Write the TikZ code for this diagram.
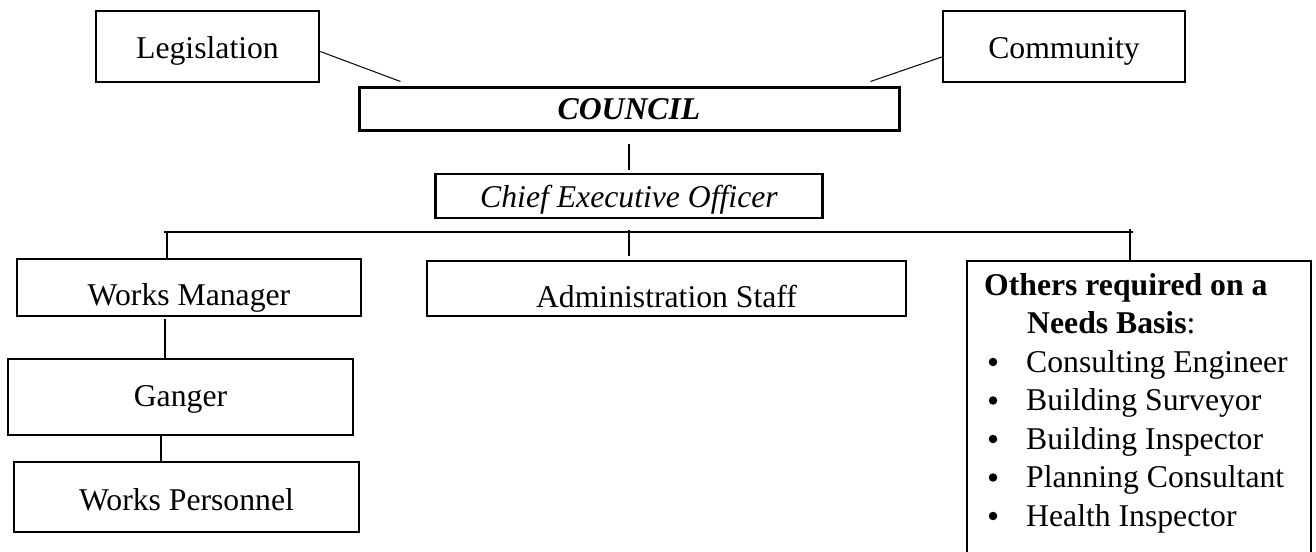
\documentclass[tikz,border=0pt]{standalone}
\usepackage{fontspec}
\setmainfont{Liberation Serif}
\usetikzlibrary{calc}
\begin{document}
\begin{tikzpicture}[x=1bp,y=-1bp,
  every node/.style={font=\fontsize{31.7bp}{38.5bp}\selectfont},
  box/.style={draw, line width=2.5bp, inner sep=0pt, text depth=0pt},
  conn/.style={line width=2bp},
  thinconn/.style={line width=1bp},
  entry/.style={anchor=base west, inner sep=0pt},
  dot/.style={circle, fill, inner sep=0pt, minimum size=8.5bp}]
\useasboundingbox (0,0) rectangle (1316,552);
\clip (0,0) rectangle (1316,552);
\fill[white] (0,0) rectangle (1316,552);

% top level
\node[box, minimum width=223bp, minimum height=71bp, text height=25bp] (leg) at (207.5,46.5) {Legislation};
\node[box, minimum width=242bp, minimum height=71bp, text height=24bp] (comm) at (1064,46.5) {Community};
\node[box, line width=3bp, minimum width=540bp, minimum height=43bp, text height=21bp] (council) at (629,109.5) {\textbf{\textit{COUNCIL}}};
\node[box, minimum width=387bp, minimum height=44bp, text height=24bp] (ceo) at (629,196) {\textit{Chief Executive Officer}};

% second level
\node[box, minimum width=344bp, minimum height=57bp, text height=35bp] (wm) at (189,287.5) {Works Manager};
\node[box, minimum width=479bp, minimum height=55bp, text height=37bp] (admin) at (666.5,288.5) {Administration Staff};
\node[box, line width=1.5bp, minimum width=344bp, minimum height=340bp, anchor=north west] (others) at (966,260) {};

% works crew
\node[box, minimum width=345bp, minimum height=76bp, text height=18bp] (ganger) at (180.5,397) {Ganger};
\node[box, minimum width=345bp, minimum height=70bp, text height=26bp] (wp) at (186.5,497) {Works Personnel};

% contents of the needs-basis box
\node[entry] (othhead) at (984,295) {\textbf{Others required on a}};
\node[entry] (othneeds) at (1027,333.5) {\textbf{Needs Basis}:};
\foreach [count=\i] \t in {Consulting Engineer, Building Surveyor, Building Inspector, Planning Consultant, Health Inspector} {
  \node[dot] (bul\i) at (993,{323.5+38.5*\i}) {};
  \node[entry] (item\i) at (1026,{333.5+38.5*\i}) {\t};
}

% influences on council
\draw[thinconn] ([yshift=-5bp]leg.east) -- ([xshift=43bp,yshift=5bp]council.north west);
\draw[thinconn] ([yshift=-10.5bp]comm.west) -- ([xshift=-30bp,yshift=5bp]council.north east);

% reporting lines
\coordinate (busL) at (164,232);
\coordinate (busR) at (1133,232);
\draw[conn] ([yshift=-12bp]council.south) -- ([yshift=3bp]ceo.north);
\draw[line width=2.3bp] (busL) -- (busR);
\draw[conn] ([yshift=-11bp]ceo.south) -- ([yshift=-37bp]ceo.south);
\draw[conn] ([xshift=3bp]busL) -- ([xshift=3bp]busL |- wm.north);
\draw[conn] ([xshift=-3bp,yshift=3bp]busR) -- ([xshift=-3bp]busR |- others.north);
\draw[conn] ([xshift=-24bp,yshift=-2bp]wm.south) -- ([xshift=-24bp]wm.south |- ganger.north);
\draw[conn] ([xshift=-19.5bp]ganger.south) -- ([xshift=-19.5bp]ganger.south |- wp.north);
\end{tikzpicture}
\end{document}
